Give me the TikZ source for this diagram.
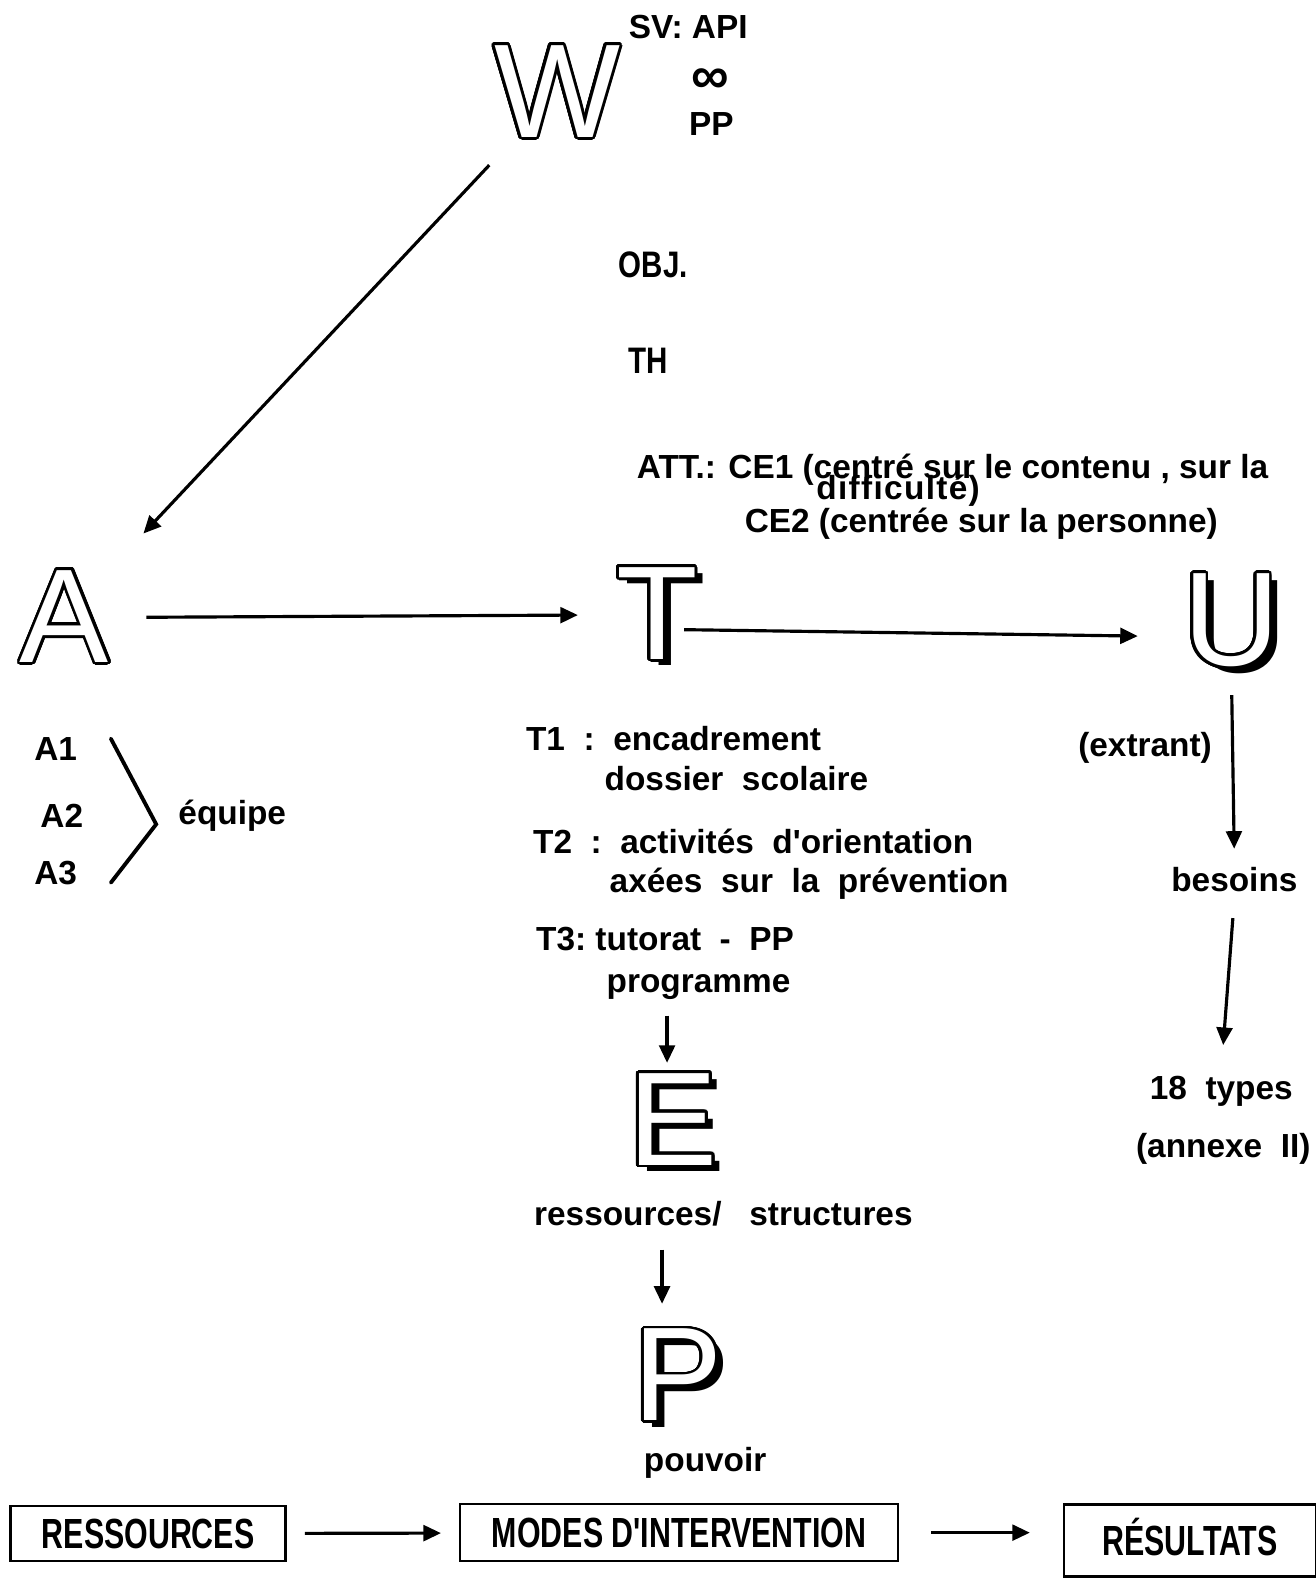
\documentclass[tikz,border=0pt]{standalone}
\usepackage{fontspec}
\newfontfamily\txtfont{Liberation Sans}
\newfontfamily\narrowfont[FakeStretch=0.72]{Liberation Sans}
\newfontfamily\objfont[FakeStretch=0.8]{Liberation Sans}
\usepackage{contour}
\contourlength{1.6pt}
\contournumber{32}
\usetikzlibrary{arrows.meta}
\newcommand\hollow[1]{\contour{black}{\textcolor{white}{#1}}}
\newcommand\shadowed[1]{\rlap{\hspace{1.6mm}\smash{\raisebox{-1.3mm}{#1}}}\contour{black}{\textcolor{white}{#1}}}

\begin{document}
\begin{tikzpicture}[x=0.020154cm,y=-0.020154cm,font=\txtfont\bfseries\fontsize{19}{22}\selectfont,
   lt/.style={inner sep=0pt,font=\txtfont\fontsize{76}{80}\selectfont},
   tx/.style={anchor=west,inner sep=1pt},
   bx/.style={draw,line width=1.4pt,inner sep=0pt,text height=17pt,text depth=0pt,
              font=\narrowfont\bfseries\fontsize{24}{28}\selectfont},
   arr/.style={-{Triangle[length=10pt,width=9pt]},line width=1.8pt}]
  \useasboundingbox (0,0) rectangle (1306,1568);
  % big letters
  \node[lt] (W) at (553,92) {\hollow{W}};
  \node[lt] (A) at (64,613) {\hollow{A}};
  \node[lt] (T) at (652,610) {\shadowed{T}};
  \node[lt] (U) at (1222,617) {\shadowed{U}};
  \node[lt] (E) at (668,1112) {\shadowed{E}};
  \node[lt] (P) at (673,1366) {\shadowed{P}};
  % top texts
  \node[tx] (sv) at (622,27) {SV: API};
  \node[font=\txtfont\bfseries\fontsize{30}{30}\selectfont] (inf) at (705,80) {∞};
  \node (pp) at (706,123) {PP};
  \node[tx,font=\objfont\bfseries\fontsize{21}{24}\selectfont] (obj) at (612,263) {OBJ.};
  \node[tx,font=\objfont\bfseries\fontsize{21}{24}\selectfont] (th) at (622,358) {TH};
  \node[tx] (att) at (630,466) {ATT.: CE1 (centré sur le contenu , sur la};
  \node[tx,font=\txtfont\bfseries\addfontfeature{LetterSpace=4}\fontsize{19}{22}\selectfont] (dif) at (808,487) {difficulté)};
  \node[tx] (ce2) at (737,520) {CE2 (centrée sur la personne)};
  % team
  \node[tx] (a1) at (32,743) {A1};
  \node[tx] (a2) at (38,810) {A2};
  \node[tx] (a3) at (32,866) {A3};
  \node[tx] (eq) at (175,810) {équipe};
  \draw[line width=2.2pt,line cap=round,line join=miter] (110,733) -- (155,818) -- (110,876);
  % tasks
  \node[tx] (t1) at (520,733) {T1~~:~~encadrement};
  \node[tx] (t1b) at (598,773) {dossier~~scolaire};
  \node[tx] (t2) at (527,835) {T2~~:~~activités~~d'orientation};
  \node[tx] (t2b) at (603,877) {axées~~sur~~la~~prévention};
  \node[tx] (t3) at (530,932) {T3:~tutorat~~-~~PP};
  \node[tx] (prog) at (600,980) {programme};
  \node[tx] (res) at (528,1205) {ressources/~~~structures};
  \node[tx] (pouv) at (637,1452) {pouvoir};
  % outputs
  \node[tx] (extr) at (1068,742) {(extrant)};
  \node (bes) at (1225,873) {besoins};
  \node (typ) at (1212,1083) {18~~types};
  \node (anx) at (1214,1140) {(annexe~~II)};
  % boxes
  \node[bx,minimum width=5.5cm,minimum height=1.1cm] (b1) at (147,1522) {RESSOURCES};
  \node[bx,minimum width=8.76cm,minimum height=1.14cm] (b2) at (674,1521) {MODES D'INTERVENTION};
  \node[bx,minimum width=5.04cm,minimum height=1.44cm] (b3) at (1181,1529) {RÉSULTATS};
  % arrows
  \draw[arr,shorten <=0.68cm,shorten >=1.0cm] (W) -- (A);
  \draw[arr,shorten <=0.74cm,shorten >=0.76cm] (A) -- (T);
  \draw[arr,shorten >=0.9cm] ([xshift=-0.28cm,yshift=-0.3cm]T.east) -- ([yshift=-0.3cm]U.west);
  \coordinate (e1) at (662,1008);
  \draw[arr,shorten >=0.2cm] (e1) -- (e1 |- E.north);
  \coordinate (p1) at (657,1240);
  \draw[arr,shorten >=0.5cm] (p1) -- (p1 |- P.north);
  \draw[arr,shorten <=0.5cm,shorten >=0.25cm] (U.south) -- (bes.north);
  \draw[arr,shorten <=0.4cm,shorten >=0.5cm] (bes.south) -- (typ.north);
  \draw[arr,shorten <=0.36cm,shorten >=0.36cm] (b1) -- (b2);
  \draw[arr,shorten <=0.64cm,shorten >=0.66cm] (b2.east) -- (b2.east -| b3.west);
\end{tikzpicture}
\end{document}
